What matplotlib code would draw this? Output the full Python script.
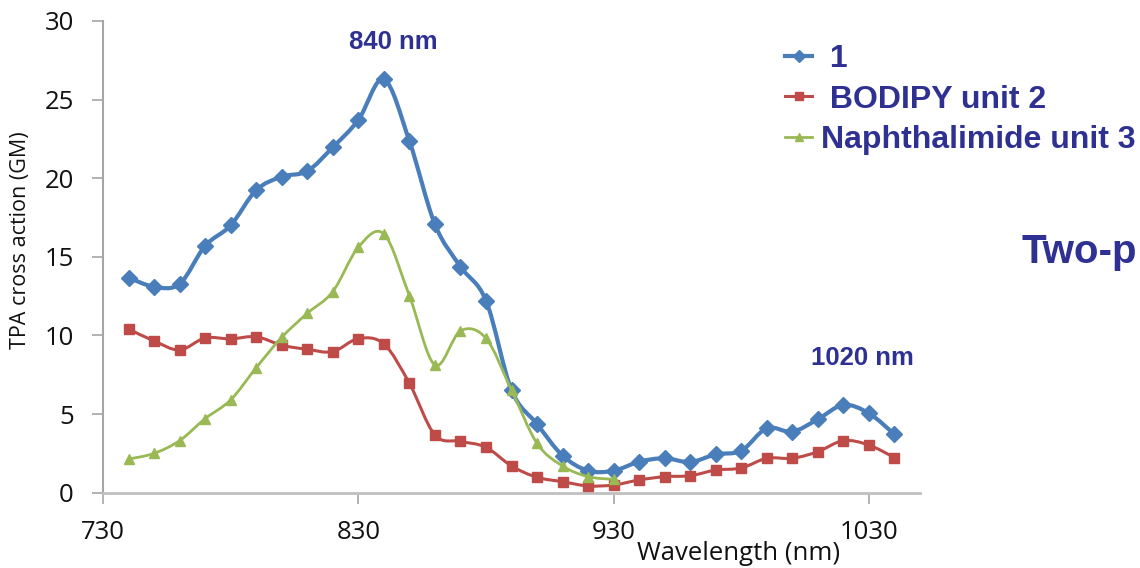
import numpy as np
import matplotlib
matplotlib.use("Agg")
import matplotlib.pyplot as plt
from matplotlib.path import Path
from matplotlib.patches import PathPatch
from matplotlib.lines import Line2D
from matplotlib.font_manager import FontProperties

# ---------------- data ----------------
wl_full = [740, 750, 760, 770, 780, 790, 800, 810, 820, 830, 840, 850, 860, 870, 880,
           890, 900, 910, 920, 930, 940, 950, 960, 970, 980, 990, 1000, 1010, 1020, 1030, 1040]
tpa_1 = [13.68, 13.10, 13.28, 15.70, 17.00, 19.24, 20.10, 20.45, 21.97, 23.70, 26.30, 22.37,
         17.07, 14.38, 12.22, 6.53, 4.37, 2.36, 1.40, 1.40, 1.97, 2.19, 1.95, 2.44, 2.67,
         4.10, 3.88, 4.67, 5.58, 5.05, 3.71]
tpa_bodipy = [10.41, 9.65, 9.08, 9.84, 9.78, 9.92, 9.38, 9.12, 8.97, 9.80, 9.46, 6.96,
              3.67, 3.27, 2.89, 1.70, 0.98, 0.70, 0.43, 0.49, 0.81, 1.02, 1.08, 1.44, 1.57,
              2.19, 2.19, 2.61, 3.31, 3.03, 2.23]
wl_naph = [740, 750, 760, 770, 780, 790, 800, 810, 820, 830, 840, 850, 860, 870, 880,
           890, 900, 910, 920, 930]
tpa_naph = [2.14, 2.50, 3.31, 4.71, 5.90, 7.95, 9.88, 11.41, 12.79, 15.61, 16.46, 12.53,
            8.12, 10.29, 9.82, 6.53, 3.14, 1.70, 1.02, 0.85]

labels = [" 1", " BODIPY unit 2", "Naphthalimide unit 3"]
x_ticks = [730, 830, 930, 1030]
y_ticks = [0, 5, 10, 15, 20, 25, 30]

c_blue = "#4A7EBB"
c_red = "#BE4B48"
c_green = "#98B954"
c_text = "#2E3192"

W, H = 1140, 568
fig = plt.figure(figsize=(W / 100, H / 100), dpi=100)
ax = fig.add_axes([103 / W, 1 - 492.7 / H, (920 - 103) / W, (492.7 - 21) / H])
ax.set_xlim(730, 1050)
ax.set_ylim(0, 30)


def smooth_path(x, y):
    """Excel-like smoothed line as cubic Bezier segments through the data points."""
    x = np.asarray(x, float)
    y = np.asarray(y, float)
    n = len(x)
    verts = [(x[0], y[0])]
    codes = [Path.MOVETO]
    for i in range(n - 1):
        p0 = np.array([x[max(i - 1, 0)], y[max(i - 1, 0)]])
        p1 = np.array([x[i], y[i]])
        p2 = np.array([x[i + 1], y[i + 1]])
        p3 = np.array([x[min(i + 2, n - 1)], y[min(i + 2, n - 1)]])
        c1 = p1 + (p2 - p0) / 6.0
        c2 = p2 - (p3 - p1) / 6.0
        verts += [tuple(c1), tuple(c2), tuple(p2)]
        codes += [Path.CURVE4] * 3
    return Path(verts, codes)


series = [
    (wl_full, tpa_1, c_blue, 3.0, "D", 8.5),
    (wl_full, tpa_bodipy, c_red, 2.2, "s", 7.0),
    (wl_naph, tpa_naph, c_green, 2.0, "^", 7.5),
]
handles = []
for k, (xs, ys, col, lw, mk, ms) in enumerate(series):
    patch = PathPatch(smooth_path(xs, ys), facecolor="none", edgecolor=col, lw=lw,
                      transform=ax.transData, zorder=2 + k, capstyle="round",
                      joinstyle="round")
    ax.add_patch(patch)
    ax.plot(xs, ys, linestyle="none", marker=mk, markersize=ms, color=col,
            markeredgecolor=col, zorder=2.5 + k)
    handles.append(Line2D([], [], color=col, lw=lw, marker=mk, markersize=ms * 0.75))

# axes styling
for s in ("top", "right"):
    ax.spines[s].set_visible(False)
ax.spines["left"].set_color("#A6A6A6")
ax.spines["bottom"].set_color("#C0C0C0")
ax.spines["left"].set_linewidth(1.5)
ax.spines["bottom"].set_linewidth(2.0)
ax.set_xticks(x_ticks)
ax.set_yticks(y_ticks)
tick_font = "Open Sans"
ax.tick_params(axis="both", direction="out", length=8, width=1.2, colors="#A6A6A6",
               labelcolor="#111111", labelsize=18.5)
ax.tick_params(axis="x", pad=12)
ax.tick_params(axis="y", pad=13)
for lab in ax.get_xticklabels() + ax.get_yticklabels():
    lab.set_family(tick_font)

fig.text(21 / W, 1 - 240 / H, "TPA cross action (GM)", rotation=90, ha="center",
         va="center", fontsize=15.5, family="Open Sans", color="#111111")
fig.text(739 / W, 1 - 553 / H, "Wavelength (nm)", ha="center", va="center",
         fontsize=18.5, family="Open Sans", color="#111111")

# annotations
ax.text(843.7, 28.67, "840 nm", ha="center", va="center", fontsize=18.5,
        fontweight="bold", family="Liberation Sans", color=c_text)
ax.text(1027.6, 8.57, "1020 nm", ha="center", va="center", fontsize=18.5,
        fontweight="bold", family="Liberation Sans", color=c_text)
fig.text(1022 / W, 1 - 263 / H, "Two-p", ha="left", va="baseline", fontsize=29,
         fontweight="bold", family="Liberation Sans", color=c_text)

leg = ax.legend(handles=handles, labels=labels, loc="upper left",
                bbox_to_anchor=(785 / W, 1 - 44 / H), bbox_transform=fig.transFigure,
                frameon=False, prop=FontProperties(family="Liberation Sans",
                                                   weight="bold", size=23),
                labelcolor=c_text, handlelength=0.85, handletextpad=0.28,
                labelspacing=0.33, borderpad=0, borderaxespad=0)

fig.savefig("out.png", dpi=100)
